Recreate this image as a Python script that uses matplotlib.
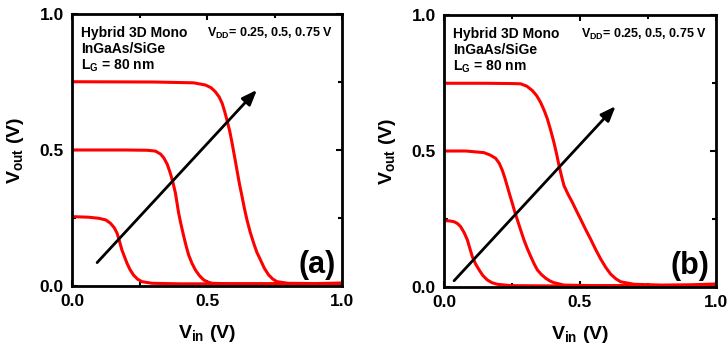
import matplotlib
matplotlib.use("Agg")
import matplotlib.pyplot as plt

plt.rcParams['font.family'] = ['Liberation Sans', 'DejaVu Sans']
plt.rcParams['font.weight'] = 'bold'
plt.rcParams['mathtext.fontset'] = 'custom'
plt.rcParams['mathtext.rm'] = 'Liberation Sans:bold'
plt.rcParams['mathtext.bf'] = 'Liberation Sans:bold'

# --- panel (a) transfer curves ---
a_x_025 = [0.0, 0.06, 0.099, 0.125, 0.142, 0.156, 0.167, 0.176, 0.185, 0.195, 0.204, 0.215,
           0.228, 0.243, 0.259, 0.296, 0.4, 1.0]
a_y_025 = [0.255, 0.253, 0.249, 0.243, 0.231, 0.215, 0.194, 0.164, 0.132, 0.106, 0.083, 0.06,
           0.04, 0.025, 0.016, 0.01, 0.008, 0.008]
a_x_050 = [0.0, 0.2, 0.28, 0.309, 0.328, 0.34, 0.353, 0.364, 0.374, 0.383, 0.389, 0.395,
           0.404, 0.414, 0.423, 0.432, 0.444, 0.457, 0.472, 0.488, 0.505, 0.519, 0.6, 1.0]
a_y_050 = [0.5, 0.5, 0.499, 0.496, 0.485, 0.471, 0.447, 0.415, 0.38, 0.342, 0.305, 0.268,
           0.225, 0.182, 0.146, 0.114, 0.084, 0.059, 0.038, 0.022, 0.014, 0.01, 0.008, 0.008]
a_x_075 = [0.0, 0.3, 0.45, 0.494, 0.515, 0.531, 0.545, 0.556, 0.565, 0.574, 0.584, 0.593,
           0.602, 0.611, 0.62, 0.63, 0.639, 0.648, 0.66, 0.673, 0.685, 0.698, 0.712, 0.728,
           0.743, 0.759, 0.8, 0.9, 1.0]
a_y_075 = [0.751, 0.75, 0.747, 0.739, 0.729, 0.714, 0.695, 0.672, 0.643, 0.61, 0.57, 0.525,
           0.476, 0.426, 0.376, 0.328, 0.283, 0.243, 0.198, 0.157, 0.123, 0.096, 0.066, 0.041,
           0.026, 0.016, 0.01, 0.009, 0.011]

# --- panel (b) ---
b_x_025 = [0.0, 0.02, 0.037, 0.05, 0.061, 0.074, 0.086, 0.095, 0.104, 0.116, 0.129, 0.143,
           0.159, 0.176, 0.196, 0.245, 0.4, 1.0]
b_y_025 = [0.244, 0.243, 0.24, 0.233, 0.222, 0.2, 0.173, 0.142, 0.112, 0.085, 0.063, 0.042,
           0.026, 0.016, 0.01, 0.005, 0.004, 0.005]
b_x_050 = [0.0, 0.08, 0.147, 0.17, 0.19, 0.203, 0.214, 0.224, 0.233, 0.242, 0.251, 0.26,
           0.27, 0.282, 0.294, 0.306, 0.319, 0.331, 0.343, 0.358, 0.374, 0.39, 0.404, 0.441,
           0.55, 1.0]
b_y_050 = [0.5, 0.5, 0.494, 0.485, 0.473, 0.455, 0.43, 0.4, 0.369, 0.338, 0.308, 0.277,
           0.246, 0.209, 0.173, 0.142, 0.112, 0.086, 0.063, 0.046, 0.032, 0.022, 0.016, 0.007,
           0.005, 0.006]
b_x_075 = [0.0, 0.15, 0.25, 0.282, 0.305, 0.325, 0.341, 0.355, 0.368, 0.38, 0.392, 0.404,
           0.414, 0.423, 0.432, 0.441, 0.456, 0.472, 0.487, 0.502, 0.52, 0.539, 0.557, 0.576,
           0.594, 0.613, 0.632, 0.65, 0.699, 0.8, 0.9, 1.0]
b_y_075 = [0.749, 0.749, 0.748, 0.747, 0.738, 0.722, 0.703, 0.679, 0.65, 0.618, 0.577, 0.532,
           0.489, 0.446, 0.408, 0.373, 0.341, 0.311, 0.28, 0.25, 0.213, 0.176, 0.139, 0.103,
           0.073, 0.047, 0.03, 0.019, 0.01, 0.007, 0.008, 0.011]

# arrows (start, end) in data units
a_arrow = [(0.093, 0.086), (0.685, 0.721)]
b_arrow = [(0.037, 0.023), (0.631, 0.665)]

panels = [
    ([(a_x_025, a_y_025), (a_x_050, a_y_050), (a_x_075, a_y_075)], a_arrow, '(a)'),
    ([(b_x_025, b_y_025), (b_x_050, b_y_050), (b_x_075, b_y_075)], b_arrow, '(b)'),
]
axes_rects = [
    [72 / 728, 1 - 286 / 351, 270 / 728, 272 / 351],
    [444 / 728, 1 - 287 / 351, 272 / 728, 272 / 351],
]

fig = plt.figure(figsize=(7.28, 3.51), dpi=100)

for rect, (curves, arrow, tag) in zip(axes_rects, panels):
    ax = fig.add_axes(rect)
    for xs, ys in curves:
        ax.plot(xs, ys, color='#ff0000', lw=2.2, solid_joinstyle='round')
    ax.annotate('', xy=arrow[1], xytext=arrow[0],
                arrowprops=dict(arrowstyle='-|>,head_length=0.9,head_width=0.35',
                                color='black', lw=2, shrinkA=0, shrinkB=0))
    ax.set_xlim(0, 1)
    ax.set_ylim(0, 1)
    ax.set_xticks([0, 0.5, 1.0])
    ax.set_yticks([0, 0.5, 1.0])
    ax.set_xticks([0.25, 0.75], minor=True)
    ax.set_yticks([0.25, 0.75], minor=True)
    ax.set_xticklabels(['0.0', '0.5', '1.0'])
    ax.set_yticklabels(['0.0', '0.5', '1.0'])
    ax.tick_params(which='both', direction='in', top=True, right=True,
                   labelsize=12.5, width=1.5)
    ax.tick_params(which='major', length=4, pad=6)
    ax.tick_params(which='minor', length=3)
    for lbl in ax.get_xticklabels() + ax.get_yticklabels():
        lbl.set_fontweight('bold')
    for s in ax.spines.values():
        s.set_linewidth(2)
    ax.set_xlabel(r'V$_\mathbf{in}$ (V)', fontsize=14, fontweight='bold', labelpad=10)
    ax.set_ylabel(r'V$_\mathbf{out}$ (V)', fontsize=14, fontweight='bold', labelpad=10)
    ax.text(0.033, 0.955, 'Hybrid 3D Mono\nInGaAs/SiGe\n' + r'L$_\mathbf{G}$ = 80 nm',
            transform=ax.transAxes, ha='left', va='top', fontsize=10,
            fontweight='bold', linespacing=1.15)
    ax.text(0.967, 0.93, r'V$_\mathbf{DD}$= 0.25, 0.5, 0.75 V',
            transform=ax.transAxes, ha='right', va='center', fontsize=9,
            fontweight='bold')
    ax.text(0.975, 0.077, tag, transform=ax.transAxes, ha='right', va='center',
            fontsize=22, fontweight='bold')

fig.savefig('out.png', dpi=100)
